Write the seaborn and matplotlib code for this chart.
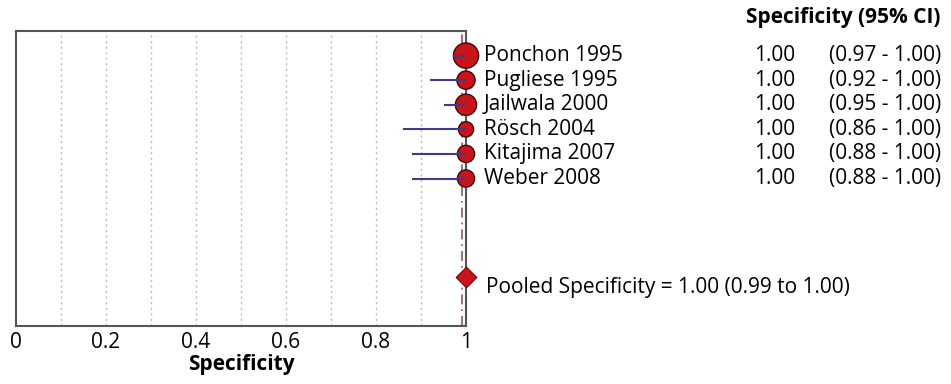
import matplotlib
matplotlib.use("Agg")
import matplotlib.pyplot as plt
import matplotlib.transforms as mtransforms
import seaborn as sns
import pandas as pd

studies = ["Ponchon 1995", "Pugliese 1995", "Jailwala 2000", "Rösch 2004", "Kitajima 2007", "Weber 2008"]
spec = [1.00, 1.00, 1.00, 1.00, 1.00, 1.00]
ci_low = [0.97, 0.92, 0.95, 0.86, 0.88, 0.88]
ci_high = [1.00, 1.00, 1.00, 1.00, 1.00, 1.00]
weights = [676, 361, 484, 256, 324, 324]
pooled = 1.00
pooled_low = 0.99
pooled_high = 1.00
pooled_line = 0.99
xticks = [0, 0.2, 0.4, 0.6, 0.8, 1]
xtick_labels = ["0", "0.2", "0.4", "0.6", "0.8", "1"]

sns.set_style("white")
plt.rcParams["font.family"] = ["Open Sans", "DejaVu Sans"]
plt.rcParams["text.color"] = "black"
plt.rcParams["axes.labelcolor"] = "black"
plt.rcParams["xtick.color"] = "black"

fs = 15
fig = plt.figure(figsize=(9.51, 3.84), dpi=100)
ax = fig.add_axes([16 / 951, 58 / 384, 450 / 951, 295 / 384])

rows = list(range(1, len(studies) + 1))
pooled_row = 10
df = pd.DataFrame({"study": studies, "spec": spec, "low": ci_low, "high": ci_high,
                   "w": weights, "row": rows})

# grid lines
for g in [0.1, 0.2, 0.3, 0.4, 0.5, 0.6, 0.7, 0.8, 0.9]:
    ax.axvline(g, color="#b8b8b8", lw=1.0, ls=(0, (1.5, 2.5)), zorder=0)
ax.axvline(pooled_line, color="#8a5a6a", lw=1.2, ls=(0, (6, 3, 1, 3)), zorder=1)

sns.scatterplot(data=df, x="spec", y="row", size="w", sizes=(120, 330),
                color="#c8141a", edgecolor="#3a0a0a", linewidth=1.0,
                legend=False, ax=ax, zorder=3, clip_on=False)
for r, lo, est in zip(rows, ci_low, spec):
    ax.plot([lo, est], [r, r], color="#3c3c8c", lw=1.5, zorder=4,
            solid_capstyle="butt", clip_on=False)

ax.scatter([pooled], [pooled_row], marker="D", s=110, color="#c8141a",
           edgecolor="#5a0a0a", linewidth=0.8, zorder=5, clip_on=False)

ax.set_xlim(0, 1)
ax.set_ylim(12, 0)
ax.set_yticks([])
ax.set_xticks(xticks)
ax.set_xticklabels(xtick_labels, fontsize=fs)
ax.tick_params(axis="x", length=0, pad=4)
ax.set_xlabel("Specificity", fontsize=fs, fontweight="bold", labelpad=1)
ax.set_ylabel("")
for s in ax.spines.values():
    s.set_color("#555555")
    s.set_linewidth(1.5)

tr = mtransforms.blended_transform_factory(fig.transFigure, ax.transData)
for r, name, est, lo, hi in zip(rows, studies, spec, ci_low, ci_high):
    fig.text(484 / 951, r, name, transform=tr, fontsize=fs, va="center", ha="left")
    fig.text(795 / 951, r, f"{est:.2f}", transform=tr, fontsize=fs, va="center", ha="right")
    fig.text(941 / 951, r, f"({lo:.2f} - {hi:.2f})", transform=tr, fontsize=fs,
             va="center", ha="right")

fig.text(941 / 951, 1 - 17 / 384, "Specificity (95% CI)", fontsize=fs,
         fontweight="bold", ha="right", va="center")
fig.text(486 / 951, pooled_row + 0.45,
         f"Pooled Specificity = {pooled:.2f} ({pooled_low:.2f} to {pooled_high:.2f})",
         transform=tr, fontsize=fs, va="center", ha="left")

fig.savefig("out.png", dpi=100)
